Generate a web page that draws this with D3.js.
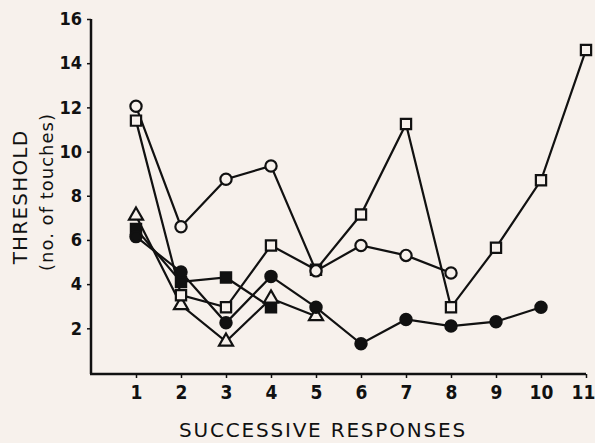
<!DOCTYPE html>
<html>
<head>
<meta charset="utf-8">
<script src="https://cdn.jsdelivr.net/npm/d3@7"></script>
<style>
  body { margin: 0; background: #f7f1ec; }
  svg { display: block; }
  .tick text { font-family: "DejaVu Sans Condensed", "DejaVu Sans", sans-serif; fill: #111; }
  .lbl { font-family: "DejaVu Sans", sans-serif; fill: #111; }
</style>
</head>
<body>
<div id="chart"></div>
<script>
// successive responses 1..11
var responses = [1, 2, 3, 4, 5, 6, 7, 8, 9, 10, 11];
var yTicks = [2, 4, 6, 8, 10, 12, 14, 16];

// thresholds (no. of touches), one array per animal
var openCircle   = [12.05, 6.6, 8.75, 9.35, 4.6, 5.75, 5.3, 4.5];
var openSquare   = [11.4, 3.5, 2.95, 5.75, 4.65, 7.15, 11.25, 2.95, 5.65, 8.7, 14.6];
var filledCircle = [6.15, 4.55, 2.25, 4.35, 2.95, 1.3, 2.4, 2.1, 2.3, 2.95];
var filledSquare = [6.5, 4.1, 4.3, 2.95];
var openTriangle = [7.1, 3.05, 1.4, 3.35, 2.55];

var series = [
  { name: "filledSquare", vals: filledSquare, shape: "square", fill: true },
  { name: "openTriangle", vals: openTriangle, shape: "triangle", fill: false },
  { name: "filledCircle", vals: filledCircle, shape: "circle", fill: true },
  { name: "openSquare", vals: openSquare, shape: "square", fill: false },
  { name: "openCircle", vals: openCircle, shape: "circle", fill: false }
];

var W = 595, H = 443;
var x = d3.scaleLinear().domain([0, 11]).range([91, 586]);
var y = d3.scaleLinear().domain([0, 16]).range([372.5, 19]);

var svg = d3.select("#chart").append("svg")
    .attr("width", W)
    .attr("height", H);

// axes
var yAxis = d3.axisLeft(y).tickValues(yTicks).tickSize(4).tickPadding(5).tickFormat(d3.format("d"));
var gy = svg.append("g").attr("transform", "translate(" + x(0) + ",0)").call(yAxis);
gy.select(".domain").attr("d", "M0," + y(16) + "V" + (y(0) + 1.5)).attr("stroke", "#111").attr("stroke-width", 2.5);
gy.selectAll(".tick text").style("font-size", "18px").style("font-weight", "bold");

var xAxis = d3.axisBottom(x).tickValues(responses).tickSize(4).tickPadding(8).tickFormat(d3.format("d"));
var gx = svg.append("g").attr("transform", "translate(0," + (y(0) + 1.5) + ")").call(xAxis);
gx.select(".domain").attr("d", "M" + (x(0) - 1) + ",0H" + x(11)).attr("stroke", "#111").attr("stroke-width", 2.5);
gx.selectAll(".tick text").style("font-size", "19px").style("font-weight", "bold")
    .attr("dx", function(d) { return d == 11 ? -3 : 0; });

svg.selectAll(".tick line").attr("stroke", "#111").attr("stroke-width", 1.5);

// axis titles
svg.append("text").attr("class", "lbl")
    .attr("transform", "translate(27,197) rotate(-90)")
    .attr("text-anchor", "middle")
    .style("font-size", "20px")
    .style("letter-spacing", "1.2px")
    .text("THRESHOLD");
svg.append("text").attr("class", "lbl")
    .attr("transform", "translate(53,192) rotate(-90)")
    .attr("text-anchor", "middle")
    .style("font-size", "18px")
    .style("letter-spacing", "1px")
    .text("(no. of touches)");
svg.append("text").attr("class", "lbl")
    .attr("x", 323).attr("y", 437)
    .attr("text-anchor", "middle")
    .style("font-size", "20px")
    .style("letter-spacing", "1.8px")
    .text("SUCCESSIVE RESPONSES");

// lines
var line = d3.line()
    .x(function(d, i) { return x(responses[i]); })
    .y(function(d) { return y(d); });

svg.selectAll(".series")
    .data(series)
    .enter().append("path")
    .attr("class", "series")
    .attr("d", function(s) { return line(s.vals); })
    .attr("fill", "none")
    .attr("stroke", "#111")
    .attr("stroke-width", 2.2);

// markers
var sym = { circle: d3.symbolCircle, square: d3.symbolSquare, triangle: d3.symbolTriangle };
var sizes = { circle: 100, square: 105, triangle: 85 };

series.forEach(function(s) {
  svg.selectAll(".m-" + s.name)
    .data(s.vals)
    .enter().append("path")
    .attr("class", "m-" + s.name)
    .attr("transform", function(d, i) { return "translate(" + x(responses[i]) + "," + y(d) + ")"; })
    .attr("d", d3.symbol().type(sym[s.shape]).size(sizes[s.shape]))
    .attr("fill", s.fill ? "#111" : "#f7f1ec")
    .attr("stroke", "#111")
    .attr("stroke-width", 2.2);
});
</script>
</body>
</html>
